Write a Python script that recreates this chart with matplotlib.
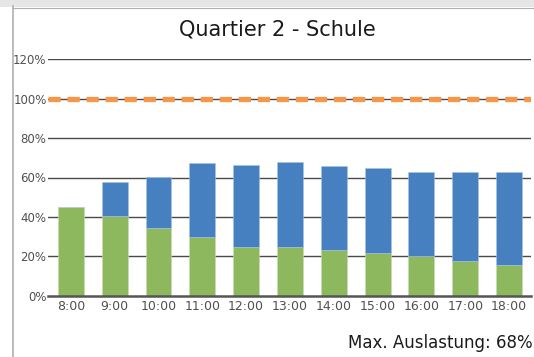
import matplotlib
matplotlib.use("Agg")
import matplotlib.pyplot as plt
from matplotlib.lines import Line2D
from matplotlib.patches import Rectangle

hours = ["8:00", "9:00", "10:00", "11:00", "12:00", "13:00", "14:00", "15:00", "16:00", "17:00", "18:00"]
green_share = [45.0, 40.5, 34.4, 29.8, 24.7, 24.7, 23.0, 21.8, 20.1, 17.5, 15.8]
blue_share = [0.0, 17.2, 25.7, 37.8, 41.8, 43.4, 42.7, 43.1, 42.9, 45.5, 47.2]
capacity = 100
y_ticks = [0, 20, 40, 60, 80, 100, 120]
y_labels = ["0%", "20%", "40%", "60%", "80%", "100%", "120%"]
title = "Quartier 2 - Schule"
note = "Max. Auslastung: 68%"

plt.rcParams['font.family'] = ['DejaVu Sans']
plt.rcParams['lines.scale_dashes'] = False

fig = plt.figure(figsize=(5.34, 3.57), dpi=100)
W, H = 534, 357
ax = fig.add_axes([48 / W, (H - 295.7) / H, (531 - 48) / W, 236.4 / H])

x = list(range(len(hours)))
ax.set_axisbelow(True)
for t in y_ticks[1:]:
    ax.axhline(t, color="#4a4a4a", lw=1.0, zorder=0)

ax.bar(x, green_share, width=0.59, color="#8DB85E", edgecolor="#c9dcb4", linewidth=0.4, zorder=2)
ax.bar(x, blue_share, width=0.59, bottom=green_share, color="#4680C0", edgecolor="#a9c3e2", linewidth=0.4, zorder=2)

ax.axhline(capacity, color="#F79646", lw=3.8, dashes=(8.8, 4.9), zorder=3)

ax.set_xlim(-0.52, 10.5)
ax.set_ylim(0, 120)
ax.set_xticks(x)
ax.set_xticklabels(hours)
ax.set_yticks(y_ticks)
ax.set_yticklabels(y_labels)
ax.tick_params(axis="x", length=0, labelsize=9, labelcolor="#505050", pad=3)
ax.tick_params(axis="y", length=0, labelsize=8.5, labelcolor="#505050", pad=1)
for s in ["top", "right", "left"]:
    ax.spines[s].set_visible(False)
ax.spines["bottom"].set_color("#555555")
ax.spines["bottom"].set_linewidth(1.8)

fig.text(277 / W, 1 - 30 / H, title, ha="center", va="center", fontsize=15, color="#1a1a1a")
fig.text(533 / W, 1 - 343 / H, note, ha="right", va="center", fontsize=12, color="#1a1a1a")

# screenshot frame
fig.add_artist(Rectangle((0, 1 - 7 / H), 1, 7 / H, transform=fig.transFigure, color="#e6e6e6", lw=0))
fig.add_artist(Line2D([12.5 / W, 12.5 / W], [0, 1 - 6 / H], transform=fig.transFigure, color="#b0b0b0", lw=1.2))
fig.add_artist(Line2D([12.5 / W, 1], [1 - 7.5 / H, 1 - 7.5 / H], transform=fig.transFigure, color="#b0b0b0", lw=0.8))

fig.savefig("out.png", dpi=100)
